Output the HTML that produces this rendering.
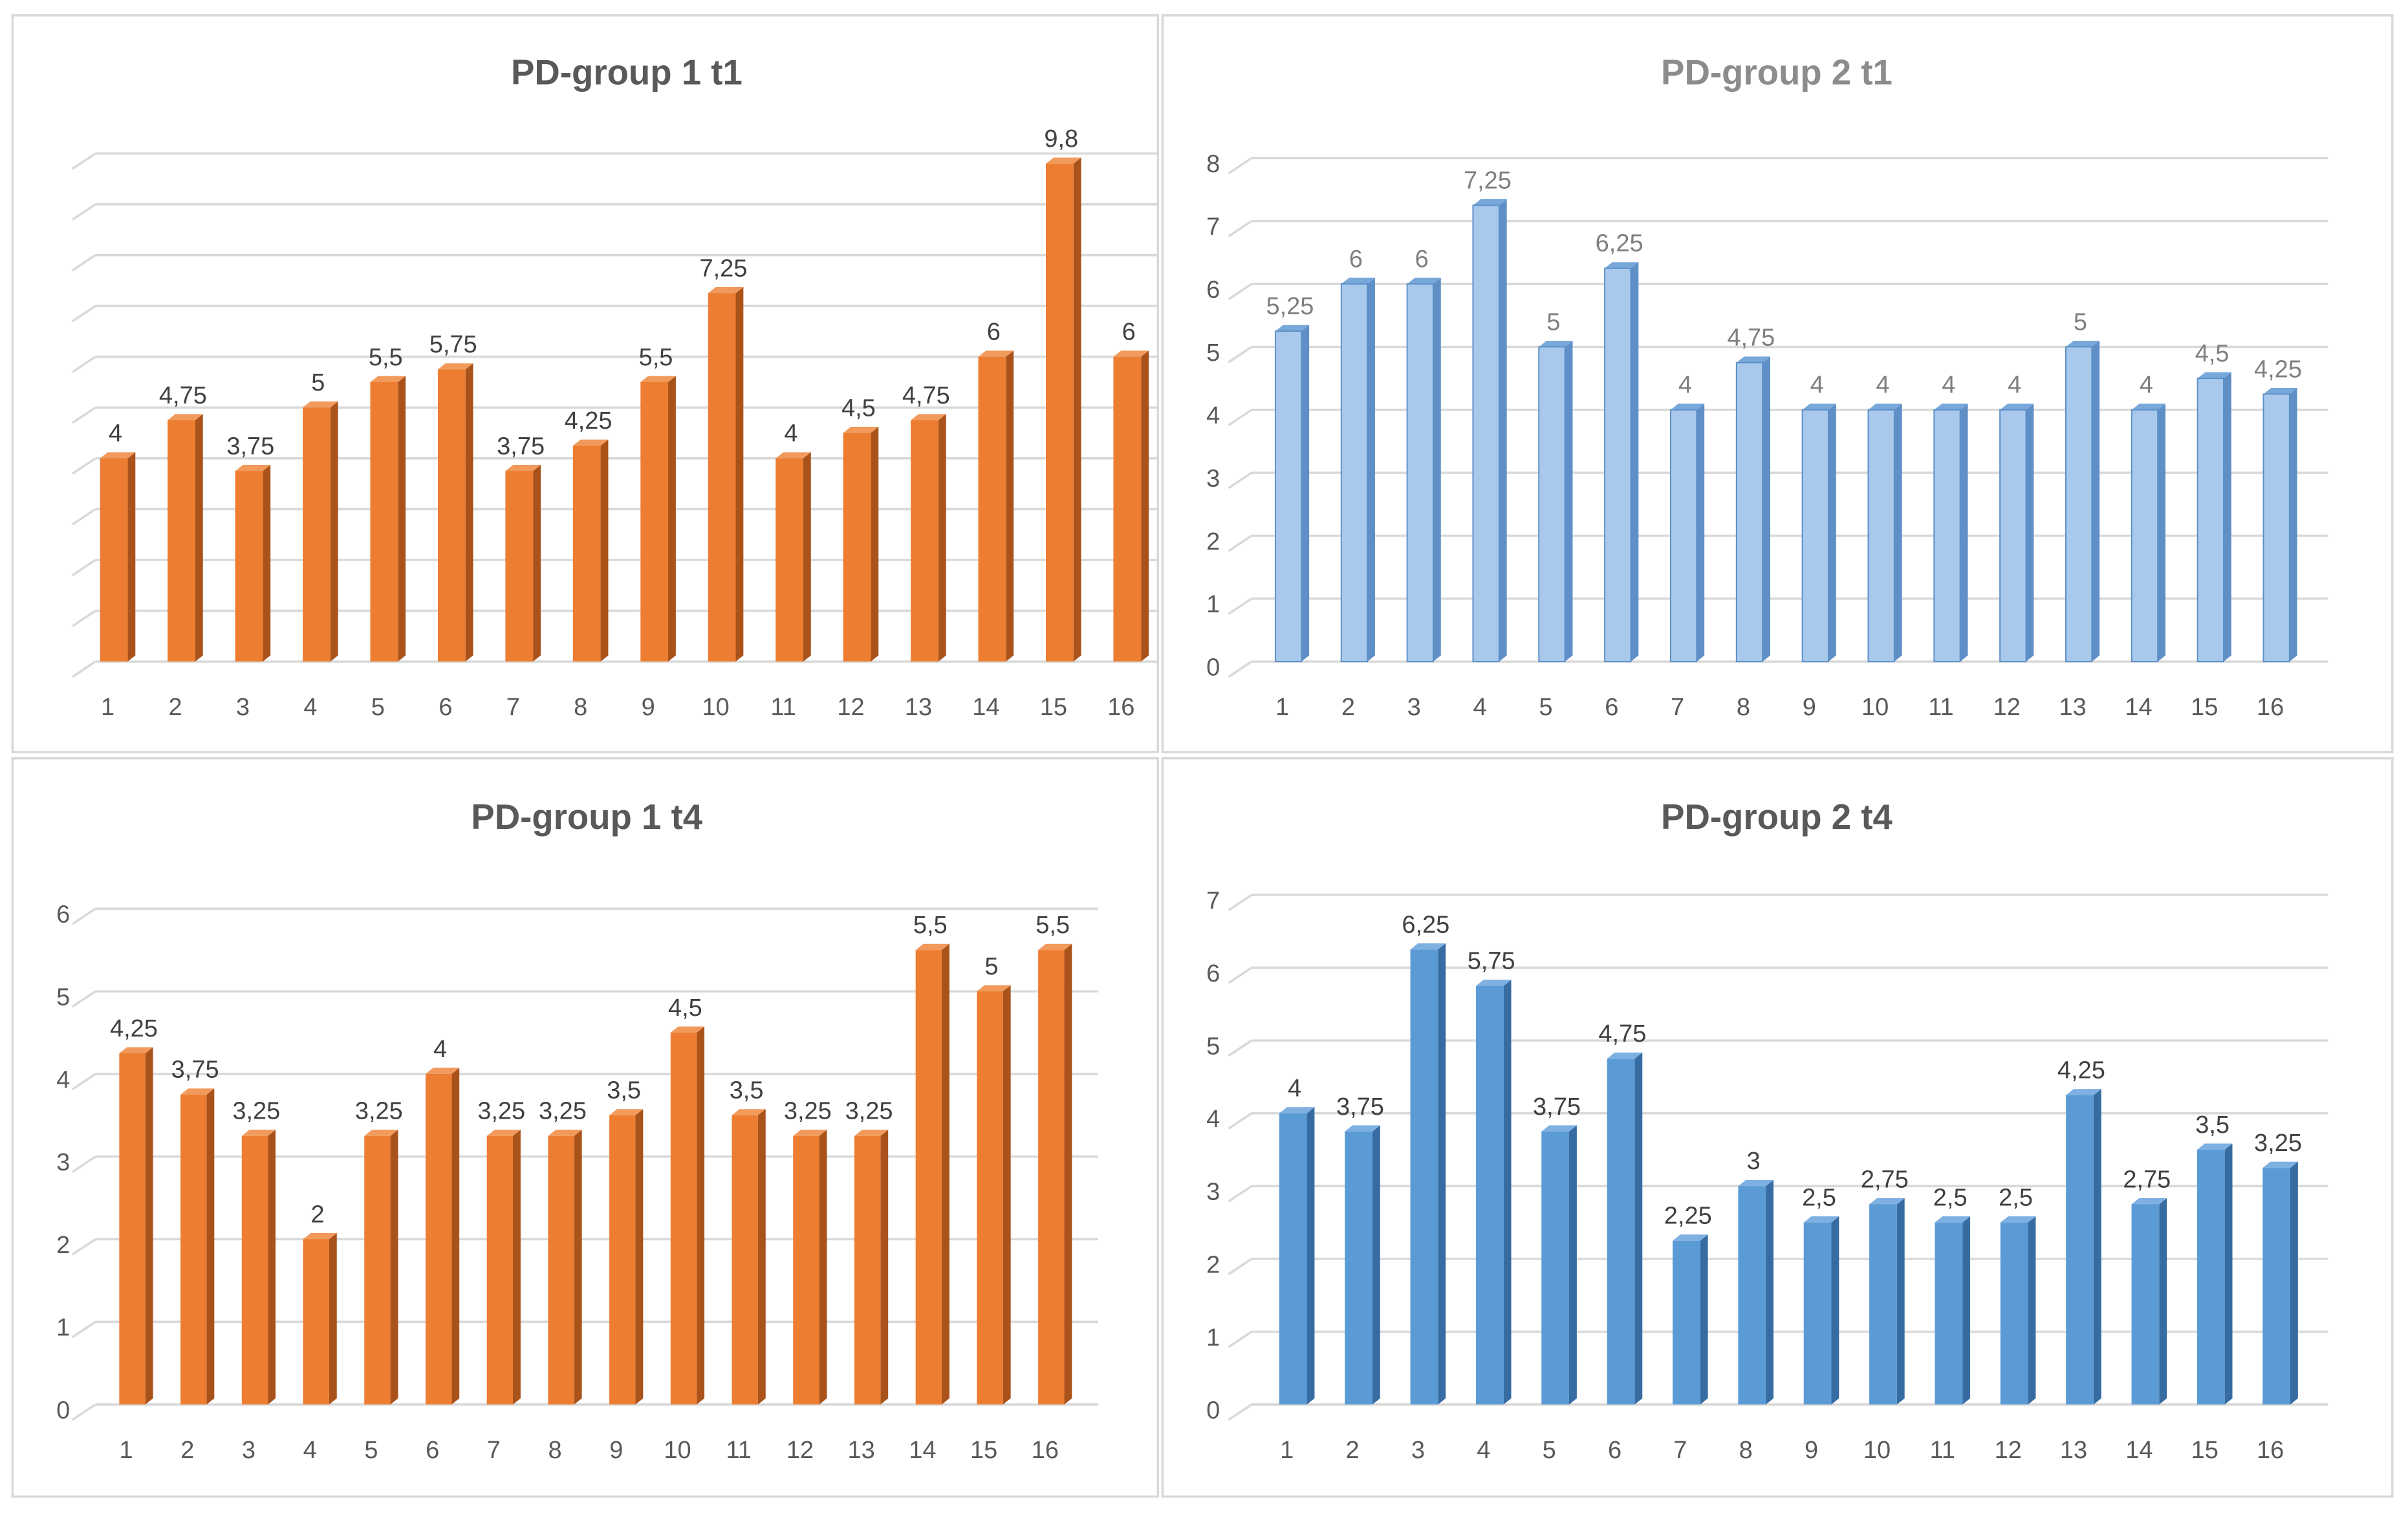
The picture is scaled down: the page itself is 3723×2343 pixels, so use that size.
<!DOCTYPE html>
<html><head><meta charset="utf-8"><style>
html,body{margin:0;padding:0;background:#fff;}
svg{display:block;}
text{font-family:"Liberation Sans",sans-serif;}
</style></head><body>
<svg id="root" width="3723" height="2343" viewBox="0 0 1568 987" xmlns="http://www.w3.org/2000/svg">
<rect x="0" y="0" width="1568" height="987" fill="#fff"/>
</svg>
<script>
const categories = ["1","2","3","4","5","6","7","8","9","10","11","12","13","14","15","16"];
const g1t1Values = [4,4.75,3.75,5,5.5,5.75,3.75,4.25,5.5,7.25,4,4.5,4.75,6,9.8,6];
const g1t1Labels = ["4","4,75","3,75","5","5,5","5,75","3,75","4,25","5,5","7,25","4","4,5","4,75","6","9,8","6"];
const g2t1Values = [5.25,6,6,7.25,5,6.25,4,4.75,4,4,4,4,5,4,4.5,4.25];
const g2t1Labels = ["5,25","6","6","7,25","5","6,25","4","4,75","4","4","4","4","5","4","4,5","4,25"];
const g1t4Values = [4.25,3.75,3.25,2,3.25,4,3.25,3.25,3.5,4.5,3.5,3.25,3.25,5.5,5,5.5];
const g1t4Labels = ["4,25","3,75","3,25","2","3,25","4","3,25","3,25","3,5","4,5","3,5","3,25","3,25","5,5","5","5,5"];
const g2t4Values = [4,3.75,6.25,5.75,3.75,4.75,2.25,3,2.5,2.75,2.5,2.5,4.25,2.75,3.5,3.25];
const g2t4Labels = ["4","3,75","6,25","5,75","3,75","4,75","2,25","3","2,5","2,75","2,5","2,5","4,25","2,75","3,5","3,25"];
const ticks8 = ["0","1","2","3","4","5","6","7","8"];
const ticks6 = ["0","1","2","3","4","5","6"];
const ticks7 = ["0","1","2","3","4","5","6","7"];

const NS="http://www.w3.org/2000/svg";
const root=document.getElementById('root');
function mk(tag,attrs,parent){const e=document.createElementNS(NS,tag);for(const k in attrs)e.setAttribute(k,attrs[k]);parent.appendChild(e);return e;}

function panel(cfg){
  const g=mk('g',{},root);
  
  
  const frame=mk('rect',{x:cfg.px,y:cfg.py,width:cfg.pw,height:cfg.ph,fill:'#fff',stroke:'#d9d9d9','stroke-width':1.5},g);
  
  
  const t=mk('text',{x:cfg.tx,y:cfg.ty,'text-anchor':'middle','font-size':23,'font-weight':'bold',fill:cfg.titleColor},g);
  t.textContent=cfg.title;
  
  
  const y=v=>cfg.base-(v/cfg.max)*(cfg.base-cfg.top);
  const x=i=>cfg.x0+i*cfg.step;
  const nT=cfg.max;
  for(let k=0;k<=nT;k++){
    const yy=y(k);
    const gl=mk('line',{x1:cfg.gx0,y1:yy,x2:cfg.gx1,y2:yy,stroke:'#d9d9d9','stroke-width':1.5},g);
    
    
    const dl=mk('line',{x1:cfg.gx0-15,y1:yy+10,x2:cfg.gx0,y2:yy,stroke:'#d9d9d9','stroke-width':1.5},g);
    
    
    if(cfg.ticks){
      const tl=mk('text',{x:cfg.tickX,y:yy+9,'text-anchor':'middle','font-size':16,fill:'#595959'},g);
      tl.textContent=cfg.ticks[k];
      
      
    }
  }
  const w=cfg.bw, d=5, dy=4;
  cfg.values.forEach((v,i)=>{
    const cx=x(i), l=cx-w/2, r=cx+w/2, top=y(v), b=cfg.base;
    const bg=mk('g',{},g);
    
    
    mk('polygon',{points:`${r},${top} ${r+d},${top-dy} ${r+d},${b-dy} ${r},${b}`,fill:cfg.side},bg);
    mk('polygon',{points:`${l},${top} ${l+d},${top-dy} ${r+d},${top-dy} ${r},${top}`,fill:cfg.topc},bg);
    mk('rect',{x:l,y:top,width:w,height:b-top,fill:cfg.front,stroke:cfg.edge||'none','stroke-width':cfg.edge?0.8:0},bg);
    const lb=mk('text',{x:cx+1,y:top-11,'text-anchor':'middle','font-size':16,fill:cfg.labelColor},g);
    lb.textContent=cfg.labels[i];
    
    
    const cl=mk('text',{x:cx-4,y:cfg.base+35,'text-anchor':'middle','font-size':16,fill:'#595959'},g);
    cl.textContent=categories[i];
    
    
  });
}

const orange={front:'#ed7d31',side:'#a9531b',topc:'#f19a5c'};
const light={front:'#a9c9ec',side:'#5f8fc6',topc:'#78a8da',edge:'#5b8fc7'};
const dark={front:'#5b9bd5',side:'#376ca3',topc:'#7fb0e2'};

panel(Object.assign({name:'panel-group1-t1',px:8,py:10,pw:746,ph:480,title:'PD-group 1 t1',tx:408,ty:55,titleColor:'#595959',
  values:g1t1Values,labels:g1t1Labels,max:10,base:431,top:100,gx0:62,gx1:754,x0:74,step:44,bw:18,ticks:null,labelColor:'#404040'},orange));
panel(Object.assign({name:'panel-group2-t1',px:757,py:10,pw:801,ph:480,title:'PD-group 2 t1',tx:1157,ty:55,titleColor:'#8c8c8c',
  values:g2t1Values,labels:g2t1Labels,max:8,base:431,top:103,gx0:815,gx1:1516,x0:839,step:42.9,bw:17,ticks:ticks8,tickX:790,labelColor:'#7f7f7f'},light));
panel(Object.assign({name:'panel-group1-t4',px:8,py:494,pw:746,ph:481,title:'PD-group 1 t4',tx:382,ty:540,titleColor:'#595959',
  values:g1t4Values,labels:g1t4Labels,max:6,base:915,top:592,gx0:62,gx1:715,x0:86,step:39.9,bw:17,ticks:ticks6,tickX:41,labelColor:'#404040'},orange));
panel(Object.assign({name:'panel-group2-t4',px:757,py:494,pw:801,ph:481,title:'PD-group 2 t4',tx:1157,ty:540,titleColor:'#595959',
  values:g2t4Values,labels:g2t4Labels,max:7,base:915,top:583,gx0:815,gx1:1516,x0:842,step:42.7,bw:18,ticks:ticks7,tickX:790,labelColor:'#404040'},dark));
</script>
</body></html>
